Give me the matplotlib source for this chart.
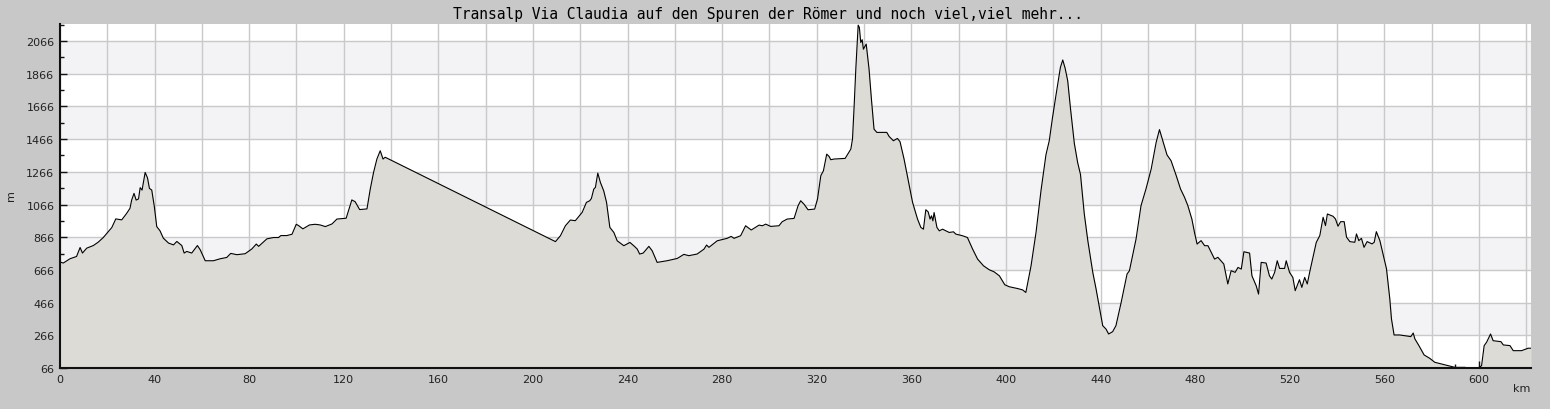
import matplotlib
matplotlib.use("Agg")
import matplotlib.pyplot as plt
from matplotlib.ticker import MultipleLocator, FixedLocator, FuncFormatter

title = "Transalp Via Claudia auf den Spuren der Römer und noch viel,viel mehr..."

km = [0, 1.4, 4.2, 7, 8.5, 9.5, 11.3, 14.1, 16.2, 18.3, 21.9, 23.6, 26.1, 28.2, 29.6,
      30.3, 31.3, 32.2, 33.2, 33.9, 34.7, 36.0, 37.0, 37.8, 38.8, 39.9, 40.9, 42.3,
      43.7, 45.9, 48, 49.4, 51.5, 52.5, 53.6, 55.7, 58.1, 59.3, 61.4, 64.9, 67.7,
      70.5, 72.2, 74.8, 78.3, 81.1, 83, 84, 87.5, 90.3, 92.4, 93.4, 95.9, 98.1, 99.9,
      100.9, 102.7, 105.5, 107.9, 110, 112.2, 115, 117.1, 121, 123.4, 124.8, 126.7,
      129.8, 131.2, 132.6, 134, 135.4, 136.6, 137.5, 209.5, 211.6, 213.7, 215.8,
      217.9, 220.8, 222.6, 224, 224.7, 225.7, 226.4, 227.4, 228.5, 229.9, 231.1,
      232.5, 234.2, 235.6, 238.4, 241, 242.9, 244.1, 245.1, 246.6, 249, 250.4,
      252.5, 256.7, 261, 263.8, 265.9, 269.4, 272.3, 273.4, 274.4, 277.9, 282.1,
      283.8, 285, 287.8, 289.9, 292.3, 295.6, 297, 298.4, 300.5, 304, 305.4, 307.5,
      310.4, 312.1, 313.2, 314.6, 316.3, 319.1, 320.3, 321.7, 322.8, 324.2, 325.2,
      325.9, 327.3, 332, 334.4, 335.1, 335.8, 336.5, 337.5, 338, 338.6, 339.2,
      339.7, 340.9, 342.1, 343.1, 344.2, 345.4, 349.6, 350.6, 352.4, 354.1, 355.2,
      356.9, 358.3, 360.5, 362.6, 364, 365.1, 366.1, 367.1, 367.9, 368.5, 369.1,
      369.6, 370.8, 371.8, 373.2, 376, 377.8, 378.8, 381.6, 383.7, 385.9, 388,
      390.5, 392.9, 395, 397.2, 399.5, 401.4, 404.9, 407, 408.4, 410.6, 412.7,
      414.8, 416.9, 418.3, 419.7, 421.1, 423, 424.0, 425.0, 426.1, 427.3, 428.9,
      430.3, 431.5, 433.1, 434.6, 436.7, 438.1, 439.5, 440.9, 442.3, 443.4, 445.1,
      446.5, 448.7, 451.2, 452.2, 455, 457.1, 459.2, 461.4, 463.5, 464.9, 466.3,
      468.1, 469.8, 472, 473.8, 475.5, 476.9, 478.6, 479.7, 480.8, 482.5, 484,
      485.4, 488.2, 489.6, 492.1, 493.8, 495.2, 496.9, 498.1, 499.5, 500.6, 503,
      504, 505.8, 506.8, 507.9, 510, 511.4, 512.4, 513.6, 514.7, 515.7, 517.8,
      518.5, 519.9, 521.3, 522.3, 523.4, 524.1, 525.1, 526.3, 527.4, 528.4, 529.8,
      531.2, 532.7, 534.1, 535.1, 535.9, 538.3, 539.3, 540.4, 541.5, 543, 544,
      545.4, 547.5, 548.2, 549.2, 550.3, 551.4, 552.7, 554.8, 555.7, 556.6, 558.1,
      559.5, 560.9, 562.3, 563, 564.1, 566.5, 571.2, 572.2, 572.9, 574.6, 576.8,
      579.2, 581.3, 585.6, 589.8, 594, 596.9, 599.7, 601.1, 602.2, 603.2, 603.9,
      604.9, 606, 609.3, 610.3, 613.1, 614.5, 618, 620.8, 622]

elev = [714, 708, 734, 748, 803, 769, 799, 815, 836, 864, 925, 978, 972, 1012, 1043,
        1093, 1134, 1093, 1100, 1169, 1154, 1262, 1229, 1165, 1154, 1052, 931, 905,
        860, 830, 819, 840, 815, 769, 779, 769, 815, 789, 722, 722, 734,
        742, 767, 759, 765, 794, 824, 810, 856, 864, 864, 876, 876, 884, 945,
        937, 917, 941, 945, 941, 931, 947, 977, 982, 1094, 1083, 1035,
        1039, 1161, 1263, 1344, 1395, 1344, 1355, 839, 875, 936, 971,
        967, 1018, 1079, 1089, 1103, 1160, 1171, 1258, 1201, 1150, 1079,
        926, 895, 844, 814, 834, 810, 793, 763, 769, 810, 783,
        712, 722, 736, 761, 753, 763, 793, 818, 804, 844, 859,
        871, 859, 875, 936, 910, 940, 936, 946, 932, 936, 961, 977,
        981, 1059, 1089, 1068, 1034, 1038, 1099, 1242, 1272, 1374, 1360,
        1340, 1344, 1348, 1405, 1466, 1670, 1894, 2163, 2149, 2057, 2074,
        2016, 2047, 1894, 1711, 1527, 1507, 1507, 1482, 1456, 1470, 1450,
        1344, 1242, 1079, 977, 926, 915, 1034, 1021, 977, 997, 966,
        1017, 926, 905, 915, 895, 899, 885, 875, 864, 793, 732,
        691, 667, 654, 630, 575, 563, 552, 544, 528, 691, 895,
        1150, 1370, 1456, 1600, 1731, 1904, 1950, 1900, 1823, 1650, 1440,
        1323, 1250, 1010, 845, 651, 549, 437, 325, 304, 274, 288,
        325, 467, 641, 661, 855, 1059, 1161, 1283, 1446, 1524, 1456,
        1369, 1334, 1242, 1161, 1110, 1059, 977, 896, 824, 845, 814,
        814, 732, 743, 702, 580, 661, 651, 681, 671, 777, 769,
        630, 569, 518, 712, 708, 630, 610, 651, 722, 675, 675,
        722, 651, 620, 539, 580, 606, 559, 620, 580, 651, 743,
        834, 876, 988, 937, 1008, 994, 978, 933, 961, 961, 866,
        839, 835, 886, 845, 859, 804, 839, 825, 835, 900, 845,
        757, 672, 488, 366, 268, 268, 258, 280, 244, 203, 146,
        125, 101, 85, 70, 70, 64, 66, 80, 203, 223, 244,
        274, 233, 227, 207, 203, 172, 172, 187, 187]

y_ticks = [66, 266, 466, 666, 866, 1066, 1266, 1466, 1666, 1866, 2066]
x_label_ticks = [0, 40, 80, 120, 160, 200, 240, 280, 320, 360, 400, 440, 480, 520, 560, 600]

W, H = 1550, 410
fig = plt.figure(figsize=(W / 100, H / 100), dpi=100, facecolor="#c8c8c8")
ax = fig.add_axes([60 / W, (H - 369) / H, (1531 - 60) / W, (369 - 25) / H])
ax.set_facecolor("white")

xmax = 622
ymin, ymax = 66, 2170
ax.set_xlim(0, xmax)
ax.set_ylim(ymin, ymax)

# alternating background bands
for i in range(len(y_ticks) - 1):
    if i % 2 == 1:
        ax.axhspan(y_ticks[i], y_ticks[i + 1], color="#f3f2f5", zorder=0, lw=0)

ax.xaxis.set_major_locator(MultipleLocator(20))
ax.xaxis.set_minor_locator(MultipleLocator(10))
ax.yaxis.set_major_locator(FixedLocator(y_ticks))
ax.yaxis.set_minor_locator(FixedLocator([v + 100 for v in y_ticks]))
ax.xaxis.set_major_formatter(FuncFormatter(
    lambda v, p: f"{int(round(v))}" if int(round(v)) in x_label_ticks else ""))

ax.grid(True, which="major", color="#c9c9c9", lw=1.0, zorder=1)
ax.set_axisbelow(True)

ax.fill_between(km, elev, ymin, color="#dcdbd6", zorder=2, lw=0)
ax.plot(km, elev, color="black", lw=0.8, zorder=3)

for s in ["top", "right"]:
    ax.spines[s].set_visible(False)
for s in ["left", "bottom"]:
    ax.spines[s].set_color("#111111")
    ax.spines[s].set_linewidth(1.5)
    ax.spines[s].set_zorder(4)

ax.tick_params(axis="both", which="major", direction="in", length=5, width=1,
               color="#111111", labelsize=8, labelcolor="#222222", pad=4)
ax.tick_params(axis="both", which="minor", direction="in", length=3, width=1,
               color="#111111")

fig.text(768 / W, 1 - 14 / H, title, ha="center", va="center",
         family="DejaVu Sans Mono", fontsize=10.5, color="black")
fig.text(1530 / W, 1 - 389 / H, "km", ha="right", va="center", fontsize=8,
         color="#222222")
fig.text(11 / W, 1 - 196 / H, "m", ha="center", va="center", rotation=90,
         fontsize=8, color="#222222")

fig.savefig("out.png", dpi=100, facecolor=fig.get_facecolor())
